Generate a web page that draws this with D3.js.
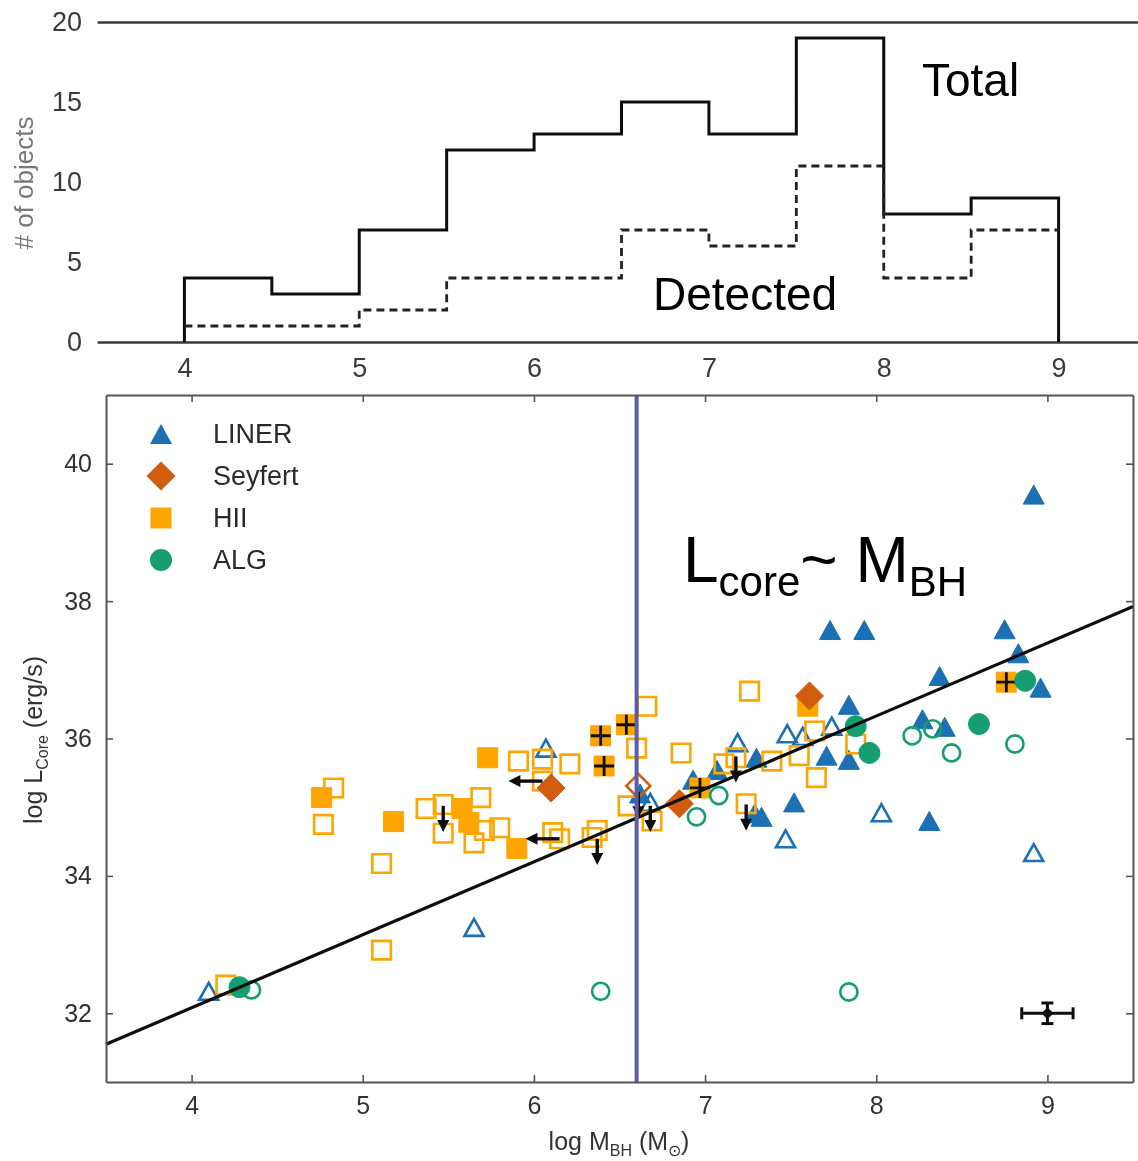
<!DOCTYPE html>
<html>
<head>
<meta charset="utf-8">
<script src="https://cdn.jsdelivr.net/npm/d3@7"></script>
<style>
  body { margin: 0; background: #fff; }
  svg { display: block; }
  text { font-family: "Liberation Sans", Arial, Helvetica, sans-serif; }
</style>
</head>
<body>
<svg id="chart" width="1138" height="1161"></svg>
<script>
// ---------- histogram: number of objects per log M_BH bin ----------
const binStarts      = [4, 4.5, 5, 5.5, 6, 6.5, 7, 7.5, 8, 8.5];
const binEnd         = 9;
const totalCounts    = [4, 3, 7, 12, 13, 15, 13, 19, 8, 9];
const detectedCounts = [1, 1, 2, 4, 4, 7, 6, 11, 4, 7];
const histMassTicks  = [4, 5, 6, 7, 8, 9];
const histCountTicks = [0, 5, 10, 15, 20];

// ---------- scatter: log L_core vs log M_BH, [logM, logL] ----------
const linerDetected = [[8.92,39.55],[7.73,37.58],[7.93,37.58],[8.75,37.59],[8.83,37.24],[8.37,36.91],
  [7.84,36.49],[8.96,36.74],[8.27,36.28],[8.40,36.17],[8.31,34.80],[7.71,35.75],[7.84,35.69],
  [7.52,35.07],[7.30,35.72],[7.07,35.54],[7.29,34.91],[7.33,34.86],[6.93,35.40],[6.62,35.20]];
const linerLimit = [[8.92,34.34],[8.03,34.92],[7.19,35.94],[7.48,36.07],[7.57,36.03],[7.74,36.18],
  [7.47,34.54],[6.68,35.07],[6.07,35.86],[5.65,33.25],[4.10,32.32]];
const seyfertDetected = [[7.61,36.62],[6.10,35.28],[6.85,35.05]];
const seyfertLimit    = [[6.61,35.31]];
const hiiDetected = [[5.73,35.72],[4.76,35.14],[5.18,34.79],[5.58,34.98],[5.62,34.78],[5.90,34.40],[7.60,36.47]];
const hiiCrossed  = [[6.39,36.04],[6.54,36.20],[6.41,35.60],[6.97,35.28],[8.76,36.82]];
const hiiLimit = [[4.83,35.28],[4.77,34.75],[5.11,34.18],[5.37,34.98],[5.47,35.04],[5.47,34.62],
  [5.69,35.14],[5.65,34.48],[5.71,34.66],[5.80,34.70],[5.91,35.67],[6.05,35.70],[6.21,35.63],
  [6.05,35.38],[6.11,34.63],[6.15,34.54],[6.37,34.66],[6.34,34.56],[6.60,35.86],[6.66,36.47],
  [6.55,35.02],[6.69,34.80],[6.86,35.79],[7.26,36.69],[7.11,35.63],[7.18,35.72],[7.39,35.67],
  [7.55,35.75],[7.64,36.11],[7.65,35.43],[7.24,35.05],[7.88,35.92],[5.11,32.92],[4.20,32.41]];
const algDetected = [[4.28,32.38],[7.88,36.18],[7.96,35.79],[8.60,36.21],[8.87,36.84]];
const algLimit = [[4.35,32.34],[6.39,32.32],[7.84,32.31],[6.95,34.86],[7.08,35.17],[8.21,36.04],
  [8.33,36.14],[8.44,35.79],[8.81,35.92]];
const downLimits = [[5.47,35.02],[6.37,34.54],[6.61,35.22],[6.68,35.02],[7.18,35.74],[7.24,35.04]];
const leftLimits = [[6.05,35.38],[6.15,34.54]];
const fitLine    = [[3.5,31.55],[9.5,37.92]];
const divideMass = 6.6;
const typicalError = {m: 9.0, l: 32.0, dm: 0.15, dl: 0.15};
const massTicks = [4, 5, 6, 7, 8, 9];
const lumTicks  = [32, 34, 36, 38, 40];
const legendNames = ["LINER", "Seyfert", "HII", "ALG"];

const C = {liner: "#1a6fb3", seyfert: "#d25c0a", hii: "#ffa500", alg: "#129e72", line: "#5e5ca6"};
const intFmt = d3.format("d");

const svg = d3.select("#chart");
const defs = svg.append("defs");
defs.append("filter").attr("id", "soft").attr("x", "-5%").attr("y", "-5%").attr("width", "110%").attr("height", "110%")
  .append("feGaussianBlur").attr("stdDeviation", 0.6);
defs.append("marker").attr("id", "head").attr("viewBox", "0 0 10 10")
  .attr("refX", 3).attr("refY", 5).attr("markerWidth", 13).attr("markerHeight", 12)
  .attr("markerUnits", "userSpaceOnUse").attr("orient", "auto")
  .append("path").attr("d", "M0,0L10,5L0,10Z").attr("fill", "#111");

// ================= histogram panel =================
const hx = d3.scaleLinear().domain([3.5, 9.5]).range([97, 1146]);
const hy = d3.scaleLinear().domain([0, 20]).range([342, 22]);
const histG = svg.append("g").attr("filter", "url(#soft)");

histG.append("g").attr("transform", `translate(0,${hy(0)})`)
  .call(d3.axisBottom(hx).tickValues(histMassTicks).tickFormat(intFmt).tickSize(0).tickPadding(16).tickSizeOuter(0))
  .call(g => g.select(".domain").attr("stroke", "#3a3a3a").attr("stroke-width", 2.5))
  .call(g => g.selectAll("text").attr("font-size", 27).attr("fill", "#3a3a3a")
    .attr("font-family", "Liberation Sans, Arial, sans-serif"));
histG.append("g").attr("transform", `translate(0,${hy(20)})`)
  .call(d3.axisTop(hx).tickValues([]).tickSizeOuter(0))
  .call(g => g.select(".domain").attr("stroke", "#3a3a3a").attr("stroke-width", 2.5));
histG.append("g").attr("transform", `translate(${hx(3.5)},0)`)
  .call(d3.axisLeft(hy).tickValues(histCountTicks).tickFormat(intFmt).tickSize(0).tickPadding(15))
  .call(g => g.select(".domain").remove())
  .call(g => g.selectAll("text").attr("font-size", 27).attr("fill", "#3a3a3a")
    .attr("font-family", "Liberation Sans, Arial, sans-serif"));

function stepPoints(counts, fromZero) {
  const pts = [];
  if (fromZero) pts.push([binStarts[0], 0]);
  counts.forEach((c, i) => {
    pts.push([binStarts[i], c]);
    pts.push([i + 1 < binStarts.length ? binStarts[i + 1] : binEnd, c]);
  });
  if (fromZero) pts.push([binEnd, 0]);
  return pts;
}
const hline = d3.line().x(d => hx(d[0])).y(d => hy(d[1]));
histG.append("path").attr("d", hline(stepPoints(totalCounts, true)))
  .attr("fill", "none").attr("stroke", "#111").attr("stroke-width", 3);
histG.append("path").attr("d", hline(stepPoints(detectedCounts, false)))
  .attr("fill", "none").attr("stroke", "#222").attr("stroke-width", 2.8).attr("stroke-dasharray", "8,5");

histG.append("text").attr("transform", "translate(33,183) rotate(-90)").attr("text-anchor", "middle")
  .attr("font-size", 26).attr("fill", "#777").text("# of objects");

svg.append("text").attr("x", 922).attr("y", 96).attr("font-size", 46).attr("fill", "#000").text("Total");
svg.append("text").attr("x", 653).attr("y", 310).attr("font-size", 46).attr("fill", "#000").text("Detected");

// ================= scatter panel =================
const sx = d3.scaleLinear().domain([3.5, 9.5]).range([106, 1133]);
const sy = d3.scaleLinear().domain([31, 41]).range([1082, 395]);
const scat = svg.append("g").attr("filter", "url(#soft)");
const plot = scat.append("g");

// marker shapes
const triPath = (w, h) => `M0,${-h / 2}L${w / 2},${h / 2}L${-w / 2},${h / 2}Z`;
const sqPath = s => `M${-s / 2},${-s / 2}h${s}v${s}h${-s}Z`;
const diaPath = r => `M0,${-r}L${r},0L0,${r}L${-r},0Z`;
const pos = d => `translate(${sx(d[0])},${sy(d[1])})`;

function drawSet(data, shape, color, filled) {
  plot.append("g").selectAll("path").data(data).join("path")
    .attr("transform", pos).attr("d", shape)
    .attr("fill", filled ? color : "none")
    .attr("stroke", color).attr("stroke-width", filled ? 1 : 2.6);
}
drawSet(linerLimit, triPath(19, 17), C.liner, false);
drawSet(linerDetected, triPath(21, 19), C.liner, true);
drawSet(hiiLimit, sqPath(18.5), C.hii, false);
drawSet(hiiDetected, sqPath(20), C.hii, true);
drawSet(hiiCrossed, sqPath(20), C.hii, true);
plot.append("g").selectAll("path").data(hiiCrossed).join("path")
  .attr("transform", pos).attr("d", "M-10,0H10M0,-10V10")
  .attr("stroke", "#111").attr("stroke-width", 2.8).attr("fill", "none");
drawSet(seyfertLimit, diaPath(12), C.seyfert, false);
drawSet(seyfertDetected, diaPath(14), C.seyfert, true);
drawSet(algLimit, d3.symbol(d3.symbolCircle, Math.PI * 8.6 * 8.6)(), C.alg, false);
drawSet(algDetected, d3.symbol(d3.symbolCircle, Math.PI * 10.5 * 10.5)(), C.alg, true);

// upper limits
const ARROW_DL = 0.26, ARROW_DM = 0.15;
plot.append("g").selectAll("line").data(downLimits).join("line")
  .attr("x1", d => sx(d[0])).attr("y1", d => sy(d[1]))
  .attr("x2", d => sx(d[0])).attr("y2", d => sy(d[1] - ARROW_DL))
  .attr("stroke", "#111").attr("stroke-width", 3.4).attr("marker-end", "url(#head)");
plot.append("g").selectAll("line").data(leftLimits).join("line")
  .attr("x1", d => sx(d[0])).attr("y1", d => sy(d[1]))
  .attr("x2", d => sx(d[0] - ARROW_DM)).attr("y2", d => sy(d[1]))
  .attr("stroke", "#111").attr("stroke-width", 3.4).attr("marker-end", "url(#head)");

// best-fit relation
plot.append("path").attr("d", d3.line().x(d => sx(d[0])).y(d => sy(d[1]))(fitLine))
  .attr("fill", "none").attr("stroke", "#111").attr("stroke-width", 3.2);

// typical uncertainty
const e = typicalError;
const eg = plot.append("g").attr("stroke", "#111").attr("stroke-width", 3).attr("fill", "none");
eg.append("line").attr("x1", sx(e.m - e.dm)).attr("x2", sx(e.m + e.dm)).attr("y1", sy(e.l)).attr("y2", sy(e.l));
eg.append("line").attr("x1", sx(e.m)).attr("x2", sx(e.m)).attr("y1", sy(e.l - e.dl)).attr("y2", sy(e.l + e.dl));
[e.m - e.dm, e.m + e.dm].forEach(m => eg.append("line").attr("x1", sx(m)).attr("x2", sx(m))
  .attr("y1", sy(e.l) - 6).attr("y2", sy(e.l) + 6));
[e.l - e.dl, e.l + e.dl].forEach(l => eg.append("line").attr("y1", sy(l)).attr("y2", sy(l))
  .attr("x1", sx(e.m) - 6).attr("x2", sx(e.m) + 6));
plot.append("path").attr("transform", `translate(${sx(e.m)},${sy(e.l)})`).attr("d", diaPath(6)).attr("fill", "#111");

// mass threshold
scat.append("line").attr("x1", sx(divideMass)).attr("x2", sx(divideMass))
  .attr("y1", sy(41)).attr("y2", sy(31)).attr("stroke", C.line).attr("stroke-width", 4);

// frame and mirrored inward ticks
const styleAxis = g => {
  g.select(".domain").attr("stroke", "#555").attr("stroke-width", 2);
  g.selectAll(".tick line").attr("stroke", "#555").attr("stroke-width", 1.6);
  g.selectAll("text").attr("font-size", 25).attr("fill", "#333")
    .attr("font-family", "Liberation Sans, Arial, sans-serif");
};
scat.append("g").attr("transform", `translate(0,${sy(31)})`)
  .call(d3.axisBottom(sx).tickValues(massTicks).tickFormat(intFmt).tickSize(-7).tickSizeOuter(0).tickPadding(14)).call(styleAxis);
scat.append("g").attr("transform", `translate(0,${sy(41)})`)
  .call(d3.axisTop(sx).tickValues(massTicks).tickSize(-7).tickSizeOuter(0).tickFormat("")).call(styleAxis);
scat.append("g").attr("transform", `translate(${sx(3.5)},0)`)
  .call(d3.axisLeft(sy).tickValues(lumTicks).tickFormat(intFmt).tickSize(-7).tickSizeOuter(0).tickPadding(14)).call(styleAxis);
scat.append("g").attr("transform", `translate(${sx(9.5)},0)`)
  .call(d3.axisRight(sy).tickValues(lumTicks).tickSize(-7).tickSizeOuter(0).tickFormat("")).call(styleAxis);

// axis titles
const xt = scat.append("text").attr("x", 619).attr("y", 1150).attr("text-anchor", "middle")
  .attr("font-size", 25).attr("fill", "#333");
xt.append("tspan").text("log M");
xt.append("tspan").attr("font-size", 16).attr("dy", 6).text("BH");
xt.append("tspan").attr("dy", -6).text(" (M");
xt.append("tspan").attr("font-size", 16).attr("dy", 6).text("⊙");
xt.append("tspan").attr("dy", -6).text(")");
const yt = scat.append("text").attr("transform", "translate(42,740) rotate(-90)").attr("text-anchor", "middle")
  .attr("font-size", 25).attr("fill", "#333");
yt.append("tspan").text("log L");
yt.append("tspan").attr("font-size", 16).attr("dy", 6).text("Core");
yt.append("tspan").attr("dy", -6).text(" (erg/s)");

// legend
const legendShapes = [
  {path: triPath(22, 20), color: C.liner},
  {path: diaPath(14.5), color: C.seyfert},
  {path: sqPath(21), color: C.hii},
  {path: d3.symbol(d3.symbolCircle, Math.PI * 11 * 11)(), color: C.alg}
];
const lg = scat.append("g").selectAll("g").data(legendNames).join("g")
  .attr("transform", (d, i) => `translate(161,${434 + i * 42})`);
lg.append("path").attr("d", (d, i) => legendShapes[i].path).attr("fill", (d, i) => legendShapes[i].color);
lg.append("text").attr("x", 52).attr("y", 9).attr("font-size", 27).attr("fill", "#2a2a2a").text(d => d);

// relation label
const ann = svg.append("text").attr("x", 683).attr("y", 582).attr("font-size", 64).attr("fill", "#000");
ann.append("tspan").text("L");
ann.append("tspan").attr("font-size", 42).attr("dy", 14).text("core");
ann.append("tspan").attr("dy", -14).text("~ M");
ann.append("tspan").attr("font-size", 42).attr("dy", 14).text("BH");
</script>
</body>
</html>
